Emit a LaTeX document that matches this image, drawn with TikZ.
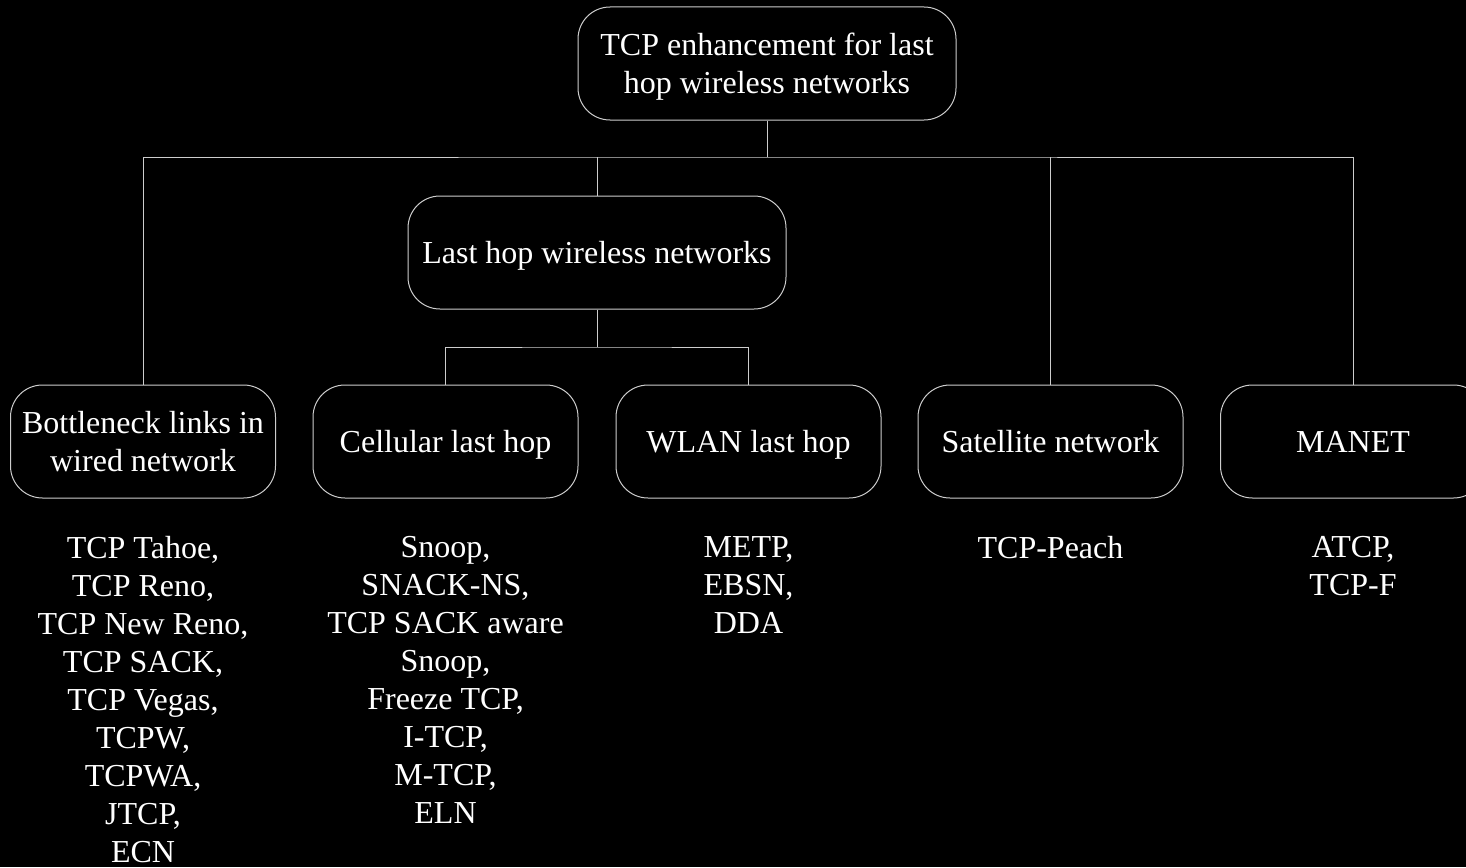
\documentclass[tikz,border=0pt]{standalone}
\usepackage{fontspec}
\setmainfont{Liberation Serif}
\definecolor{wire}{RGB}{205,205,205}
\tikzset{
  txt/.style={text=white, font=\fontsize{32}{38}\selectfont, align=center},
  box/.style={txt, draw=wire, line width=1pt, rounded corners=32pt,
              inner sep=0pt, minimum height=113pt},
  oneline/.style={text depth=0pt},
  wide/.style={box, minimum width=378pt},
  leaf/.style={box, minimum width=265pt},
  items/.style={txt, anchor=north, inner sep=0pt},
  conn/.style={draw=wire, line width=1pt}
}
% drop the descender depth of a line so boxes centre on the cap line
\newcommand{\nodepth}[1]{\raisebox{0pt}[\height][0pt]{#1}}
\begin{document}
\begin{tikzpicture}[x=1pt, y=-1pt]
  \fill[black] (0,0) rectangle (1466,867);
  \useasboundingbox (0,0) rectangle (1466,867);
  \clip (0,0) rectangle (1466,867);

  % root and intermediate category
  \node[wide] (root) at (767,63.5) {TCP enhancement for last\\\nodepth{hop wireless networks}};
  \node[wide, oneline] (last) at (597,252.5) {Last hop wireless networks};

  % leaf categories
  \node[leaf] (wired) at (143,441.5) {Bottleneck links in\\wired network};
  \node[leaf, oneline] (cell)  at (445.5,441.5) {Cellular last hop};
  \node[leaf, oneline] (wlan)  at (748.5,441.5) {WLAN last hop};
  \node[leaf, oneline] (sat)   at (1050.5,441.5) {Satellite network};
  \node[leaf, oneline] (manet) at (1353,441.5) {MANET};

  % protocol lists under each category
  \node[items] (wiredlist) at (143,536) {TCP Tahoe,\\TCP Reno,\\TCP New Reno,\\TCP SACK,\\TCP Vegas,\\TCPW,\\TCPWA,\\JTCP,\\ECN};
  \node[items] (celllist) at (445.5,536) {Snoop,\\SNACK-NS,\\TCP SACK aware\\Snoop,\\Freeze TCP,\\I-TCP,\\M-TCP,\\ELN};
  \node[items] (wlanlist) at (748.5,536) {METP,\\EBSN,\\DDA};
  \node[items] (satlist) at (1050.5,536) {TCP-Peach};
  \node[items] (manetlist) at (1353,536) {ATCP,\\TCP-F};

  % tree connectors
  \coordinate (bus1) at (767,157);
  \coordinate (bus2) at (597,347);
  \draw[conn] (root.south) -- (bus1);
  \draw[conn] (wired.north) |- (bus1) -| (manet.north);
  \draw[conn] (last.north) -- (last.north |- bus1);
  \draw[conn] (sat.north) -- (sat.north |- bus1);
  \draw[conn] (last.south) -- (bus2);
  \draw[conn] (cell.north) |- (bus2) -| (wlan.north);
\end{tikzpicture}
\end{document}
